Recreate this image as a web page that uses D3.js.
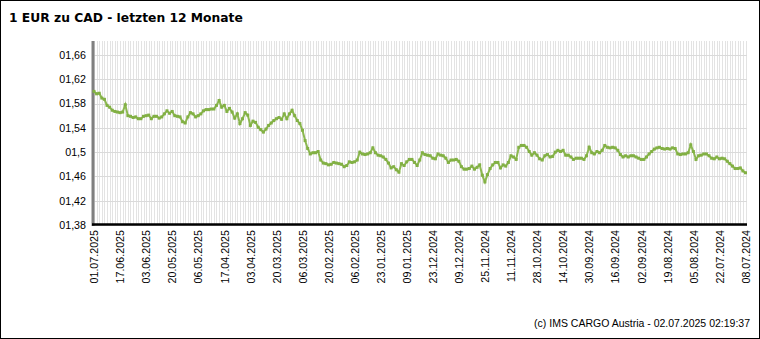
<!DOCTYPE html>
<html><head><meta charset="utf-8">
<script src="https://cdn.jsdelivr.net/npm/d3@7"></script>
<style>body{margin:0;background:#fff}svg{display:block}</style>
</head><body>
<svg id="c" width="760" height="339"></svg>
<script>
const title = "1 EUR zu CAD - letzten 12 Monate";
const footer = "(c) IMS CARGO Austria - 02.07.2025 02:19:37";
const xLabels = ["01.07.2025","17.06.2025","03.06.2025","20.05.2025","06.05.2025","17.04.2025","03.04.2025","20.03.2025","06.03.2025","20.02.2025","06.02.2025","23.01.2025","09.01.2025","23.12.2024","09.12.2024","25.11.2024","11.11.2024","28.10.2024","14.10.2024","30.09.2024","16.09.2024","02.09.2024","19.08.2024","05.08.2024","22.07.2024","08.07.2024"];
const labelStep = 10;
const yTicks = [1.38,1.42,1.46,1.5,1.54,1.58,1.62,1.66];
const yTickLabels = ["01,38","01,42","01,46","01,5","01,54","01,58","01,62","01,66"];
const values = [
1.600,1.596,1.597,1.589,1.587,1.577,1.574,1.569,1.567,1.566,
1.565,1.566,1.578,1.560,1.559,1.557,1.558,1.555,1.555,1.559,
1.560,1.561,1.555,1.559,1.559,1.556,1.558,1.563,1.568,1.564,
1.567,1.560,1.559,1.558,1.550,1.548,1.558,1.565,1.563,1.558,
1.560,1.563,1.568,1.570,1.570,1.571,1.571,1.577,1.585,1.574,
1.577,1.567,1.572,1.566,1.556,1.563,1.547,1.555,1.565,1.561,
1.544,1.551,
1.549,1.541,1.537,1.533,1.538,1.544,1.548,1.552,1.555,1.557,
1.554,1.563,1.555,1.563,1.569,1.560,1.552,1.547,1.536,1.519,
1.506,1.497,1.499,1.499,1.501,1.487,1.482,1.481,1.479,1.480,
1.483,1.482,1.481,1.480,1.476,1.478,1.484,1.483,1.484,1.487,
1.500,1.497,1.496,1.497,1.499,1.507,1.499,1.495,1.494,1.492,
1.488,1.482,1.474,1.476,1.471,1.467,1.481,1.478,1.484,1.488,
1.488,
1.483,
1.478,1.487,1.499,1.496,1.495,1.494,1.490,1.489,1.497,1.495,
1.494,1.490,1.483,1.487,1.487,1.488,1.485,1.476,1.472,1.472,
1.473,1.477,1.472,1.475,1.479,1.462,1.451,1.463,1.473,1.479,
1.483,1.483,1.474,1.479,1.477,1.483,1.494,1.492,1.488,1.508,
1.511,1.511,1.508,1.501,1.495,1.499,1.495,1.489,1.487,1.494,
1.496,1.492,1.493,1.500,1.503,1.501,1.503,1.495,1.495,1.492,
1.488,1.490,
1.490,1.490,1.488,1.494,1.508,1.499,1.497,1.501,1.499,1.503,
1.511,1.508,1.507,1.508,1.507,1.503,1.496,1.492,1.494,1.492,
1.494,1.494,1.492,1.490,1.488,1.488,1.492,1.497,1.501,1.505,
1.507,1.508,1.506,1.505,1.506,1.505,1.507,1.506,1.497,1.496,
1.497,1.497,1.499,1.512,1.501,1.488,1.494,1.495,1.497,1.497,
1.494,1.490,1.489,1.492,1.489,1.490,1.489,1.485,1.481,1.477,
1.473,1.473,1.474,1.469,1.466
];

const svg = d3.select("#c");
const W = 760, H = 339;
const L = 93, R = 747, T = 41, B = 225;
const font = "'Liberation Sans', Arial, sans-serif";

svg.append("rect").attr("x",0.5).attr("y",0.5).attr("width",W-1).attr("height",H-1)
  .attr("fill","#fff").attr("stroke","#000");

const x = d3.scaleLinear().domain([0, values.length - 1]).range([94, 745.5]);
const y = d3.scaleLinear().domain([1.38, 1.683]).range([B, T]);

// vertical grid (one per point)
svg.append("g").selectAll("line").data(d3.range(values.length)).join("line")
  .attr("x1", i => Math.round(x(i)) + 0.5).attr("x2", i => Math.round(x(i)) + 0.5)
  .attr("y1", T).attr("y2", B)
  .attr("stroke", "#e3e3e3").attr("stroke-width", 1);

// horizontal grid
svg.append("g").selectAll("line").data(yTicks).join("line")
  .attr("x1", L).attr("x2", R)
  .attr("y1", d => Math.round(y(d)) + 0.5).attr("y2", d => Math.round(y(d)) + 0.5)
  .attr("stroke", "#dadada").attr("stroke-width", 1);

// y axis labels
const yAxis = d3.axisLeft(y).tickValues(yTicks)
  .tickFormat((d, i) => yTickLabels[i]).tickSize(0).tickPadding(7);
const gy = svg.append("g").attr("transform", `translate(${L},0)`).call(yAxis);
gy.select(".domain").remove();
gy.selectAll("text").attr("font-family", font).attr("font-size", "10.7px").attr("fill", "#000");

// x axis labels
const tickIdx = xLabels.map((d, i) => i * labelStep);
const xAxis = d3.axisBottom(x).tickValues(tickIdx)
  .tickFormat((d, i) => xLabels[i]).tickSize(0);
const gx = svg.append("g").attr("transform", `translate(0,${B})`).call(xAxis);
gx.select(".domain").remove();
gx.selectAll("text").attr("font-family", font).attr("font-size", "10.7px").attr("fill", "#000")
  .attr("transform", "rotate(-90)").attr("text-anchor", "end")
  .attr("x", -5).attr("y", 0).attr("dy", "0.35em");

// axis lines
svg.append("line").attr("x1", L).attr("x2", L).attr("y1", T).attr("y2", B + 1)
  .attr("stroke", "#808080").attr("stroke-width", 3);
svg.append("line").attr("x1", L - 1).attr("x2", R).attr("y1", B - 0.5).attr("y2", B - 0.5)
  .attr("stroke", "#000").attr("stroke-width", 2.5);

// line + markers
const lineGen = d3.line().x((d, i) => x(i)).y(d => y(d));
svg.append("path").datum(values).attr("d", lineGen)
  .attr("fill", "none").attr("stroke", "#8cb850").attr("stroke-width", 2);
svg.append("g").selectAll("rect").data(values).join("rect")
  .attr("x", (d, i) => x(i) - 1.5).attr("y", d => y(d) - 1.5)
  .attr("width", 3).attr("height", 3).attr("fill", "#82b044");

// title
svg.append("text").attr("x", 9).attr("y", 22).text(title)
  .attr("font-family", "'DejaVu Sans', Verdana, sans-serif").attr("font-weight", "bold")
  .attr("font-size", "12.3px").attr("fill", "#000");

// footer
svg.append("text").attr("x", 750).attr("y", 327).attr("text-anchor", "end").text(footer)
  .attr("font-family", font).attr("font-size", "10.5px").attr("fill", "#000");
</script>
</body></html>
